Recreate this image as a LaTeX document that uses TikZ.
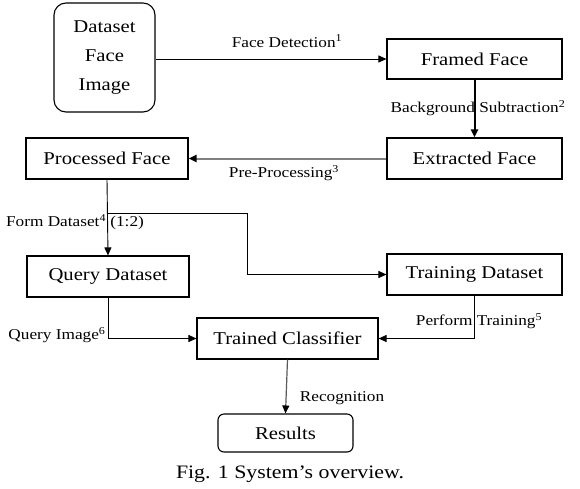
\documentclass[tikz,border=0pt]{standalone}
\usepackage{fontspec}
\setmainfont{Liberation Serif}[FakeStretch=1.15]
\usetikzlibrary{arrows.meta}
\begin{document}
\begin{tikzpicture}[x=1pt,y=-1pt,
  box/.style={draw, line width=1.1pt, inner sep=0pt, font=\fontsize{18}{20}\selectfont},
  lbl/.style={inner sep=0pt, font=\fontsize{15}{17}\selectfont},
  arr/.style={-{Triangle[length=8pt,width=7pt,color=black]}, line width=0.9pt}]
\useasboundingbox (0,0) rectangle (580,488);
% boxes
\node[box, rounded corners=12pt, minimum width=101pt, minimum height=109pt, align=center,
      font=\fontsize{18}{29}\selectfont] (ds) at (104.5,57.5) {Dataset\\Face\\Image};
\node[box, minimum width=175pt, minimum height=40pt] (ff) at (474.5,59) {Framed Face};
\node[box, minimum width=175pt, minimum height=41pt] (ef) at (474.5,158.5) {Extracted Face};
\node[box, minimum width=162pt, minimum height=41pt] (pf) at (107,158.5) {Processed Face};
\node[box, minimum width=162pt, minimum height=41pt] (qd) at (108,276.5) {Query Dataset};
\node[box, minimum width=175pt, minimum height=41pt] (td) at (474.5,274.5) {Training Dataset};
\node[box, minimum width=181pt, minimum height=41pt] (tc) at (287.5,338.5) {Trained Classifier};
\node[box, rounded corners=6pt, minimum width=135pt, minimum height=38pt] (rs) at (285.5,433) {Results};
% labels
\node[lbl] (l1) at (287,41) {Face Detection\textsuperscript{1}};
\node[lbl] (l2) at (478,108) {Background Subtraction\textsuperscript{2}};
\node[lbl] (l3) at (284,173) {Pre-Processing\textsuperscript{3}};
\node[lbl] (l4) at (75,222) {Form Dataset\textsuperscript{4} (1:2)};
\node[lbl] (l5) at (479,321) {Perform Training\textsuperscript{5}};
\node[lbl] (l6) at (57,335) {Query Image\textsuperscript{6}};
\node[lbl] (l7) at (342,398) {Recognition};
\node[inner sep=0pt, font=\fontsize{19}{21}\selectfont] (cap) at (290,474) {Fig. 1 System’s overview.};
% connectors
\draw[arr] (ff.west -| ds.east) -- (ff.west);
\draw[arr, line width=2pt] (ff.south) -- (ef.north);
\draw[arr, gray, line width=2pt] (ef.west) -- (pf.east);
\draw[arr] (pf.south) -- (qd.north);
\coordinate (br) at (108,213);
\coordinate (bk) at (247,213);
\draw[arr] (br) -- (bk) |- (td.west);
\draw[arr] (qd.south) |- (tc.west);
\draw[arr] (td.south) |- (tc.east);
\draw[arr, gray!70!black, line width=1.2pt] (tc.south) -- (rs.north);
\end{tikzpicture}
\end{document}
